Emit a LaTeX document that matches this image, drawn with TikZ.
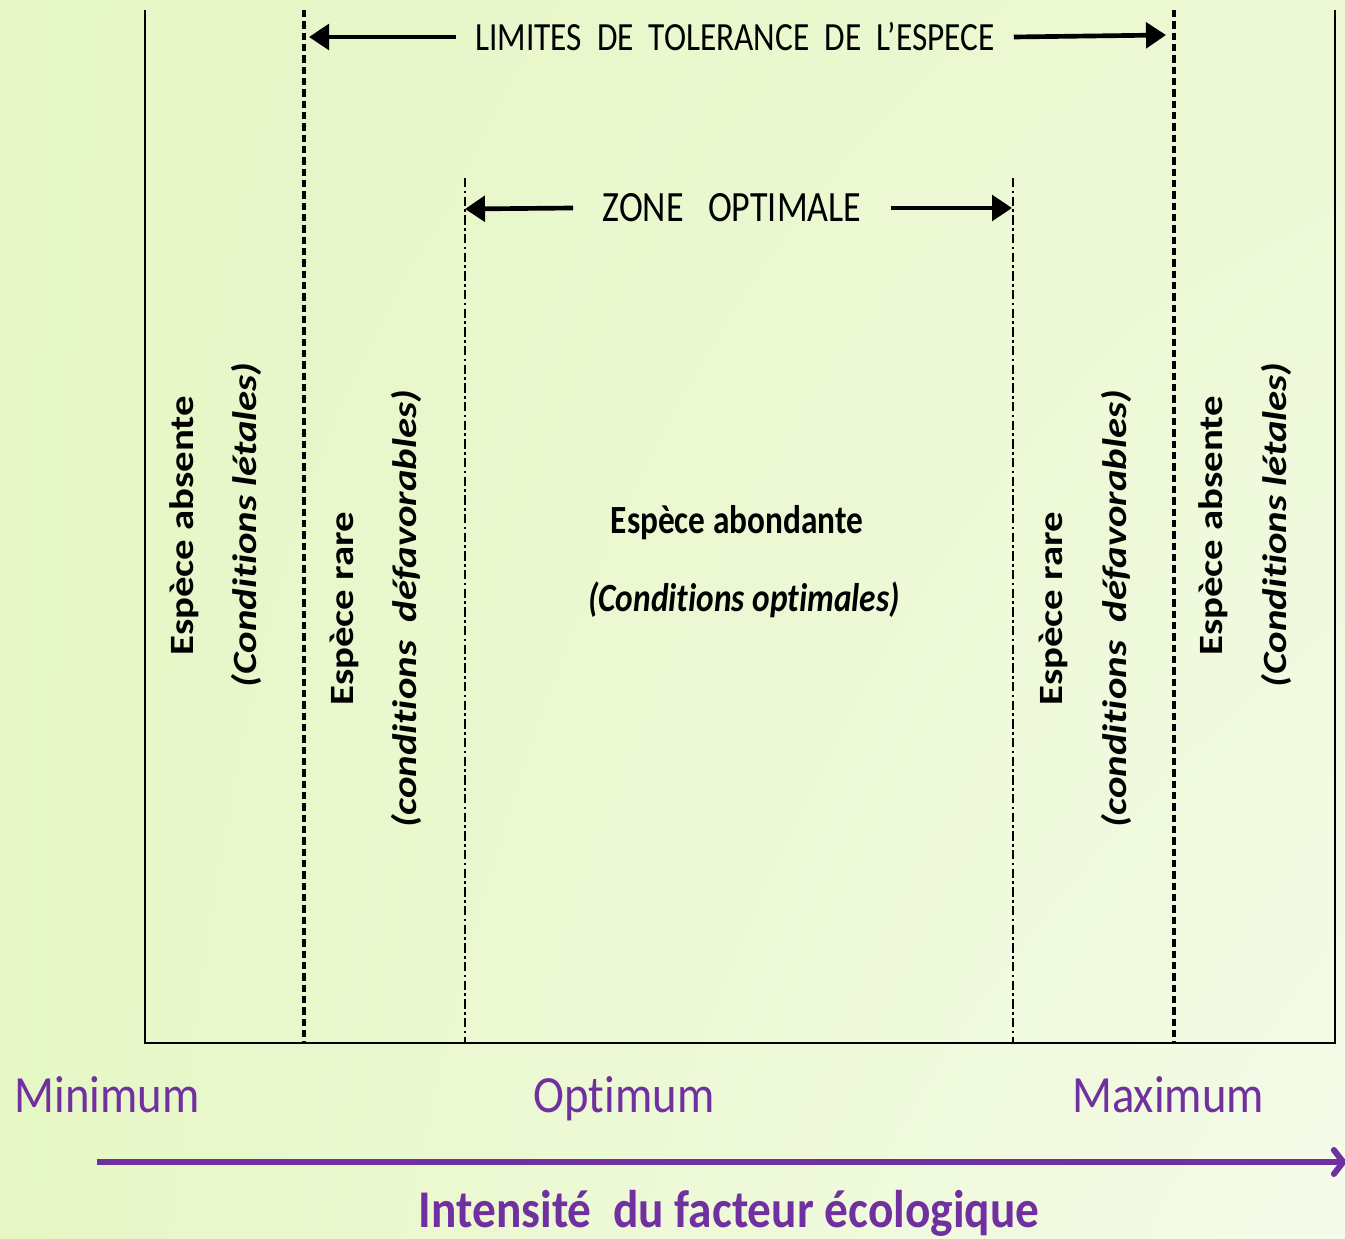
\documentclass[tikz,border=0pt]{standalone}
\usepackage{fontspec}
\setmainfont{Carlito}[Ligatures=NoCommon]
\usetikzlibrary{arrows.meta,shadings}
\definecolor{bgA}{RGB}{230,247,197}
\definecolor{bgB}{RGB}{236,248,212}
\definecolor{bgC}{RGB}{245,251,234}
\definecolor{axviolet}{RGB}{112,48,160}
\newcommand{\HS}[1]{\scalebox{1}[1.2]{#1}}
\newcommand{\HSb}[1]{\scalebox{1}[1.12]{#1}}
\newcommand{\VS}[1]{\scalebox{1.2}[1]{#1}}
\begin{document}
\begin{tikzpicture}[x=0.75pt,y=-0.75pt,
  frameline/.style={line width=2pt,black},
  tolline/.style={line width=2.4pt,black,dash pattern=on 5.5pt off 3pt},
  optline/.style={line width=1.4pt,black,dash pattern=on 7pt off 2.4pt on 2.2pt off 2.4pt},
  bigarrow/.style={line width=3.5pt,black,-{Triangle[length=15pt,width=19pt]}},
  axisarrow/.style={line width=4.5pt,axviolet,-{Straight Barb[length=7pt,width=18pt,line cap=round]}},
  vtxt/.style={rotate=90,font=\fontsize{25.5}{30}\selectfont\bfseries,inner sep=0pt},
  vtxti/.style={rotate=90,font=\fontsize{25.5}{30}\selectfont\bfseries\itshape,inner sep=0pt},
  ctxt/.style={font=\fontsize{25}{30}\selectfont\bfseries,inner sep=0pt},
  axlbl/.style={font=\fontsize{35}{40}\selectfont,text=axviolet,inner sep=0pt,anchor=base},
  toptxt/.style={font=\fontsize{25}{30}\selectfont,inner ysep=0pt}
]
\useasboundingbox (0,0) rectangle (1345,1238);
\shade[upper left=bgA,upper right=bgB,lower left=bgA,lower right=bgC] (0,0) rectangle (1345,1238);

% frame and zone limits
\draw[frameline] (145,10) -- (145,1043) -- (1335,1043) -- (1335,10);
\draw[tolline] (304,10) -- (304,1043);
\draw[tolline] (1174,10) -- (1174,1043);
\draw[optline] (465,178) -- (465,1043);
\draw[optline] (1013,178) -- (1013,1043);

% tolerance limits
\node[toptxt,inner xsep=14pt] (tol) at (735,37) {\HS{LIMITES\ \ DE\ \ TOLERANCE\ \ DE\ \ L’ESPECE}};
\coordinate (tolL) at (309,37);
\coordinate (tolR) at (1166,35);
\draw[bigarrow] (tol.west) -- (tolL);
\draw[bigarrow] (tol.east) -- (tolR);

% optimal zone
\node[font=\fontsize{27}{32}\selectfont,inner ysep=0pt,inner xsep=22pt] (zone) at (732,208) {\HS{ZONE\ \ \ OPTIMALE}};
\coordinate (zoneL) at (465,209);
\coordinate (zoneR) at (1012,208);
\draw[bigarrow] (zone.west) -- (zoneL);
\draw[bigarrow] (zone.east) -- (zoneR);

% vertical texts
\node[vtxt] (absL) at (184,526) {\VS{Espèce absente}};
\node[vtxti] (letL) at (246,525) {\VS{(Conditions létales)}};
\node[vtxt] (rareL) at (344,609) {\VS{Espèce rare}};
\node[vtxti] (defL) at (406,609) {\VS{(conditions\ \ défavorables)}};
\node[vtxt] (rareR) at (1053,609) {\VS{Espèce rare}};
\node[vtxti] (defR) at (1116,609) {\VS{(conditions\ \ défavorables)}};
\node[vtxt] (absR) at (1213,526) {\VS{Espèce absente}};
\node[vtxti] (letR) at (1276,525) {\VS{(Conditions létales)}};

% centre
\node[ctxt] (abond) at (737,523) {\HS{Espèce abondante}};
\node[ctxt,font=\fontsize{25}{30}\selectfont\bfseries\itshape] (optc) at (744,600) {\HS{(Conditions optimales)}};

% axis
\node[axlbl] (mini) at (107,1112) {\HSb{Minimum}};
\node[axlbl] (opti) at (624,1112) {\HSb{Optimum}};
\node[axlbl] (maxi) at (1168,1112) {\HSb{Maximum}};
\coordinate (axL) at (97,1162);
\coordinate (axR) at (1347,1162);
\draw[axisarrow] (axL) -- (axR);
\node[axlbl,font=\fontsize{35.5}{40}\selectfont\bfseries] (intens) at (729,1227) {\HSb{Intensité\ \ du facteur écologique}};
\end{tikzpicture}
\end{document}
